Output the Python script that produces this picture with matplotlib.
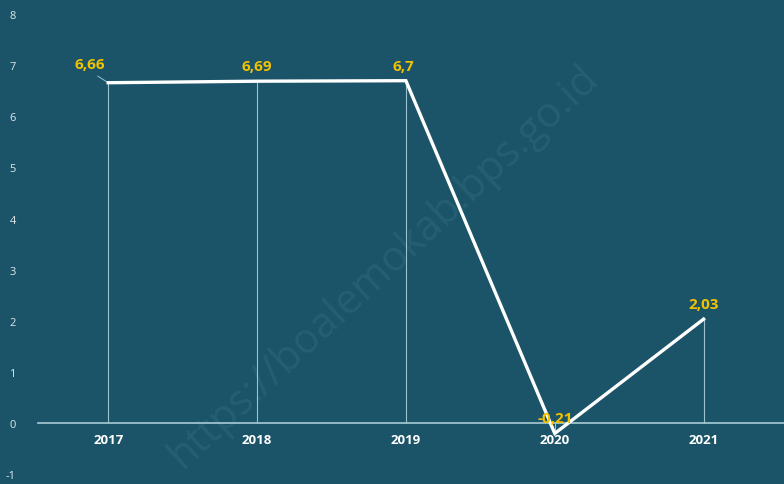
import matplotlib
matplotlib.use("Agg")
import matplotlib.pyplot as plt

years = ["2017", "2018", "2019", "2020", "2021"]
values = [6.66, 6.69, 6.70, -0.21, 2.03]
labels = ["6,66", "6,69", "6,7", "-0,21", "2,03"]
yticks = [-1, 0, 1, 2, 3, 4, 5, 6, 7, 8]

bg = "#1b5468"
plt.rcParams['font.family'] = ['Open Sans', 'DejaVu Sans']

fig = plt.figure(figsize=(7.84, 4.85), dpi=100, facecolor=bg)
ax = fig.add_axes([0.036, 0.0, 0.964, 1.0])
ax.set_facecolor(bg)
x = list(range(len(years)))

ax.set_xlim(-0.537, 4.54)
ax.set_ylim(-1.2, 8.3)

# watermark
ax.text(0.47, 0.45, "https://boalemokab.bps.go.id", transform=ax.transAxes,
        rotation=43, fontsize=30, color="#275f73", alpha=0.9,
        ha="center", va="center", zorder=0)

ax.axhline(0, xmin=0.013, xmax=1.0, color="#a9cbd6", lw=1.2, zorder=1)
for xi, v in zip(x, values):
    ax.plot([xi, xi], [0, v], color="#9cc2cf", lw=0.8, zorder=2)
ax.plot(x, values, color="white", lw=2.4, zorder=3, solid_joinstyle="miter")

offsets = [(-0.12, 0.22), (0, 0.16), (-0.02, 0.16), (0, 0.17), (0, 0.15)]
for xi, v, lab, (dx, dy) in zip(x, values, labels, offsets):
    ax.text(xi + dx, v + dy, lab, color="#f2c200", fontsize=11, fontweight="bold",
            ha="center", va="bottom", zorder=4)
# leader line for first label
ax.plot([-0.07, 0.0], [6.79, 6.66], color="#9cc2cf", lw=0.7, zorder=2)

for xi, yr in zip(x, years):
    ax.text(xi, -0.33, yr, color="white", fontsize=9.5, fontweight="bold",
            ha="center", va="center")

ax.set_xticks([])
ax.set_yticks(yticks)
ax.set_yticklabels([str(t) for t in yticks], color="#dde8ec", fontsize=8)
ax.tick_params(axis="y", length=0, pad=9)
for s in ax.spines.values():
    s.set_visible(False)

fig.savefig("out.png", dpi=100, facecolor=bg)
